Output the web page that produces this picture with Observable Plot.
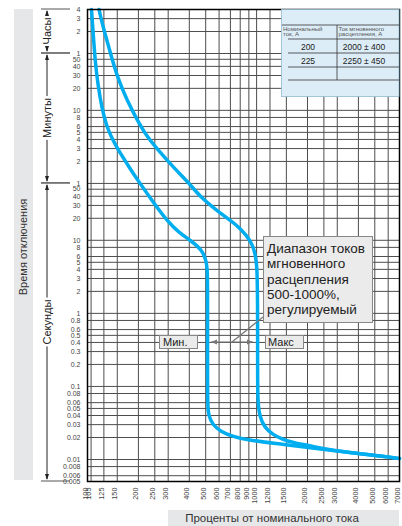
<!DOCTYPE html>
<html><head><meta charset="utf-8">
<script src="https://cdn.jsdelivr.net/npm/d3@7"></script>
<script src="https://cdn.jsdelivr.net/npm/@observablehq/plot@0.6"></script>
<style>
body{margin:0;background:#fff;}
#chart{position:relative;width:402px;height:526px;overflow:hidden;}
svg{overflow:visible}
</style></head><body><div id="chart"></div>
<script>
// ---- data ----
const xTicks = [100,105,125,150,200,250,300,400,500,600,700,800,900,1000,1200,1500,2000,2500,3000,4000,5000,6000,7000];
const yTicks = [14400,10800,7200,3600,3000,2400,1800,1200,600,480,360,300,240,180,120,60,50,40,30,20,10,8,6,5,4,3,2,1,0.8,0.6,0.5,0.4,0.3,0.2,0.1,0.08,0.06,0.05,0.04,0.03,0.02,0.01,0.008,0.006,0.005];
const yTickLabels = ["4","3","2","1","50","40","30","20","10","8","6","5","4","3","2","1","50","40","30","20","10","8","6","5","4","3","2","1","0.8","0.6","0.5","0.4","0.3","0.2","0.1","0.08","0.06","0.05","0.04","0.03","0.02","0.01","0.008","0.006","0.005"];
const minCurrent = [105.6,107.8,110.8,115.4,121.8,129.5,138.7,149.5,162.2,178.4,199.0,240.8,297.4,347.9,398.6,450.7,482.5,502.7,512.9,512.9,512.9,512.9,520,549,612.4,721,921,1387,2741,6469,7000];
const minTime    = [14400,7420,2884,1312,635,371.8,255,185.9,135.7,95.9,65.7,35.0,18.06,12.77,10.24,8.22,6.80,5.28,3.86,1.50,0.2,0.0548,0.0400,0.0301,0.0242,0.0206,0.0182,0.0163,0.0133,0.0107,0.0103];
const maxCurrent = [117,121,126.9,137.8,150.5,171.3,197.6,226.5,263.1,322.8,401.4,466.4,612.4,772,873,946,986.5,1007,1014,1014,1014,1042,1115,1244,1425,1633,2174,2741,6469,7000];
const maxTime    = [14400,10165,6750,3374,1688,817.5,435,255,169,99,59.8,38.5,23.2,15.9,11.6,8.75,6.19,4.11,1.50,0.2,0.0641,0.0387,0.0274,0.0220,0.0188,0.0171,0.0151,0.0133,0.0107,0.0103];
const timeSections = [["Часы",14400,3600,31],["Минуты",3600,60,118],["Секунды",60,0.005,322]];
const tableHead = [["Номинальный","ток, А"],["Ток мгновенного","расцепления, А"]];
const nominalCurrents = ["200","225"];
const tripCurrents = ["2000 ± 400","2250 ± 450"];
const noteLines = ["Диапазон токов","мгновенного","расцепления","500-1000%,","регулируемый"];

const FONT = "'Liberation Sans', Arial, sans-serif";
const minPts = minCurrent.map((x,i)=>({x, y:minTime[i]}));
const maxPts = maxCurrent.map((x,i)=>({x, y:maxTime[i]}));

const plot = Plot.plot({
  width: 402, height: 526,
  marginLeft: 87, marginRight: 3, marginTop: 9, marginBottom: 45,
  style: {fontFamily: FONT, background: "transparent", color: "#333"},
  x: {type: "log", domain: [100, 7000], axis: null},
  y: {type: "log", domain: [0.005, 14400], axis: null},
  marks: [
    Plot.ruleX(xTicks, {stroke: "#4d4d4d", strokeWidth: 1}),
    Plot.ruleY(yTicks, {stroke: "#4d4d4d", strokeWidth: 1}),
    Plot.line(minPts, {x:"x", y:"y", stroke:"#00aeef", strokeWidth:3.5, curve:"basis"}),
    Plot.line(maxPts, {x:"x", y:"y", stroke:"#00aeef", strokeWidth:3.5, curve:"basis"}),
    Plot.frame({stroke:"#000", strokeWidth:1.5}),
    Plot.text(xTicks, {x: d=>d, text: d=>String(d), frameAnchor:"bottom", rotate:-90, textAnchor:"end", dy:6, fontSize:7.3, fill:"#444"}),
    Plot.text(yTicks, {y: d=>d, text: (d,i)=>yTickLabels[i], frameAnchor:"left", textAnchor:"end", dx:-7, fontSize:7, fill:"#444"})
  ]
});
document.getElementById("chart").appendChild(plot);

const svg = d3.select(plot);
const ys = plot.scale("y");
const g = svg.append("g").attr("font-family", FONT).attr("text-anchor","start");

// left grey band
g.append("rect").attr("x",14).attr("y",9).attr("width",19).attr("height",471).attr("fill","#e6e7e8");
g.append("text").attr("transform","translate(27,247) rotate(-90)").attr("text-anchor","middle")
 .attr("font-size",11).attr("fill","#333").text("Время отключения");

// bottom grey band
g.append("rect").attr("x",168).attr("y",510).attr("width",231).attr("height",16).attr("fill","#e6e7e8");
g.append("text").attr("x",272).attr("y",522).attr("text-anchor","middle")
 .attr("font-size",11.5).attr("fill","#333").text("Проценты от номинального тока");

// time section brackets
const bx = 47;
timeSections.forEach(([lab,t0,t1,cy])=>{
  const y0 = ys.apply(t0), y1 = ys.apply(t1);
  g.append("line").attr("x1",41).attr("x2",70).attr("y1",y0).attr("y2",y0).attr("stroke","#555");
  g.append("line").attr("x1",41).attr("x2",70).attr("y1",y1).attr("y2",y1).attr("stroke","#555");
  const t = g.append("text").attr("transform",`translate(${bx+4},${cy}) rotate(-90)`).attr("text-anchor","middle")
    .attr("font-size",11).attr("fill","#222").text(lab);
  const L = t.node().getComputedTextLength();
  const a = cy - L/2 - 2, b = cy + L/2 + 2;
  g.append("line").attr("x1",bx).attr("x2",bx).attr("y1",y0+2).attr("y2",a).attr("stroke","#222");
  g.append("line").attr("x1",bx).attr("x2",bx).attr("y1",b).attr("y2",y1-2).attr("stroke","#222");
  g.append("path").attr("d",`M${bx},${y0+1}l-2,6h4z`).attr("fill","#222");
  g.append("path").attr("d",`M${bx},${y1-1}l-2,-6h4z`).attr("fill","#222");
});

// table box
const tb = g.append("g");
tb.append("rect").attr("x",281.5).attr("y",9.5).attr("width",117.5).attr("height",87).attr("fill","#dcedf7").attr("stroke","#8fb8cf").attr("stroke-width",0.8);
tb.append("line").attr("x1",282).attr("x2",399).attr("y1",25).attr("y2",25).attr("stroke","#333").attr("stroke-width",0.8);
[39,53,67,80].forEach(y=>tb.append("line").attr("x1",288).attr("x2",399).attr("y1",y).attr("y2",y).attr("stroke","#333").attr("stroke-width",0.8));
tb.append("line").attr("x1",337).attr("x2",337).attr("y1",25).attr("y2",80).attr("stroke","#333").attr("stroke-width",0.8);
tableHead.forEach((lines,i)=>{
  lines.forEach((s,j)=>tb.append("text").attr("x",i?338.5:283).attr("y",30.5+j*5.5).attr("font-size",6).attr("fill","#555").text(s));
});
nominalCurrents.forEach((s,i)=>tb.append("text").attr("x",308).attr("y",50+i*14).attr("text-anchor","middle").attr("font-size",8.5).attr("fill","#222").text(s));
tripCurrents.forEach((s,i)=>tb.append("text").attr("x",364).attr("y",50+i*14).attr("text-anchor","middle").attr("font-size",8.5).attr("fill","#222").text(s));

// annotation
const an = g.append("g");
an.append("rect").attr("x",263.5).attr("y",236.5).attr("width",109).attr("height",86).attr("fill","#ebebeb").attr("stroke","#888");
noteLines.forEach((s,i)=>an.append("text").attr("x",267).attr("y",253+i*15.3).attr("font-size",13.5).attr("fill","#222").text(s));
an.append("rect").attr("x",159.5).attr("y",335.5).attr("width",38).attr("height",13).attr("fill","#ebebeb").attr("stroke","#888");
an.append("text").attr("x",163).attr("y",346).attr("font-size",11).attr("fill","#222").text("Мин.");
an.append("rect").attr("x",265.5).attr("y",335.5).attr("width",38).attr("height",13).attr("fill","#ebebeb").attr("stroke","#888");
an.append("text").attr("x",268).attr("y",346).attr("font-size",11).attr("fill","#222").text("Макс");
const ay = 342, ax0 = 211, ax1 = 253, jx = 232;
an.append("line").attr("x1",ax0).attr("x2",ax1).attr("y1",ay).attr("y2",ay).attr("stroke","#777").attr("stroke-width",1.2);
an.append("path").attr("d",`M${ax0},${ay}l6,-2.5v5z`).attr("fill","#777");
an.append("path").attr("d",`M${ax1},${ay}l-6,-2.5v5z`).attr("fill","#777");
an.append("line").attr("x1",jx).attr("x2",263).attr("y1",ay).attr("y2",317).attr("stroke","#777").attr("stroke-width",1.2);
</script></body></html>
